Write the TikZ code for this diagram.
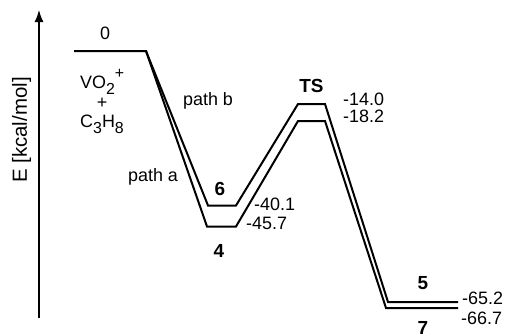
\documentclass[tikz,border=0pt]{standalone}
\usepackage{fontspec}
\setmainfont{Liberation Sans}
\usetikzlibrary{arrows.meta}
\newcommand{\sbs}[1]{\raisebox{-6.5bp}{\fontsize{16}{18}\selectfont #1}}
\newcommand{\sps}[1]{\raisebox{10bp}{\fontsize{16}{18}\selectfont #1}}
\begin{document}
\begin{tikzpicture}[x=1bp,y=-1bp,
  lvl/.style={line width=2bp, line join=miter},
  txt/.style={inner sep=0pt, font=\fontsize{18}{20}\selectfont},
  num/.style={txt, anchor=west},
  lab/.style={inner sep=0pt, font=\fontsize{19}{21}\selectfont\bfseries}]
\useasboundingbox (0,0) rectangle (507,335);
% axis
\coordinate (ax0) at (39,318);
\coordinate (ax1) at (39,10);
\draw[line width=1.3bp, -{Latex[length=12bp,width=9bp]}] (ax0) -- (ax1);
\node[inner sep=0pt, font=\fontsize{20.5}{22}\selectfont, rotate=90] (elab) at (21.5,130) {E [kcal/mol]};
% levels
\coordinate (r0) at (74,51);
\coordinate (r1) at (146,51);
\coordinate (w6a) at (208,205.5);
\coordinate (w6b) at (236,205.5);
\coordinate (w4a) at (207,226.5);
\coordinate (w4b) at (236,226.5);
\coordinate (tsa) at (298,104);
\coordinate (tsb) at (325,104);
\coordinate (tsc) at (298,121);
\coordinate (tsd) at (325,121);
\coordinate (p5a) at (388,302);
\coordinate (p5b) at (458,302);
\coordinate (p7a) at (386,308);
\coordinate (p7b) at (458,308);
\draw[lvl] (r0) -- (r1) -- (w6a) -- (w6b) -- (tsa) -- (tsb) -- (p5a) -- (p5b);
\draw[lvl] (r1) -- (w4a) -- (w4b) -- (tsc) -- (tsd) -- (p7a) -- (p7b);
% labels
\node[txt] (l0) at (105,33) {0};
\node[txt, anchor=base west] (vo) at (80,88) {VO\sbs{2}\sps{+}};
\node[txt] (plus) at (102,103) {+};
\node[txt, anchor=base west] (c3) at (80,127) {C\sbs{3}H\sbs{8}};
\node[txt] (pb) at (208,101) {path b};
\node[txt] (pa) at (153,177) {path a};
\node[lab] (l6) at (220,189) {6};
\node[lab] (l4) at (219,251) {4};
\node[lab] (lts) at (311.5,85.5) {TS};
\node[lab] (l5) at (423,283) {5};
\node[lab] (l7) at (423,327.5) {7};
\node[num] (n140) at (343,99) {-14.0};
\node[num] (n182) at (343,116) {-18.2};
\node[num] (n401) at (254,204) {-40.1};
\node[num] (n457) at (246,223) {-45.7};
\node[num] (n652) at (462,298) {-65.2};
\node[num] (n667) at (461,318) {-66.7};
\end{tikzpicture}
\end{document}
